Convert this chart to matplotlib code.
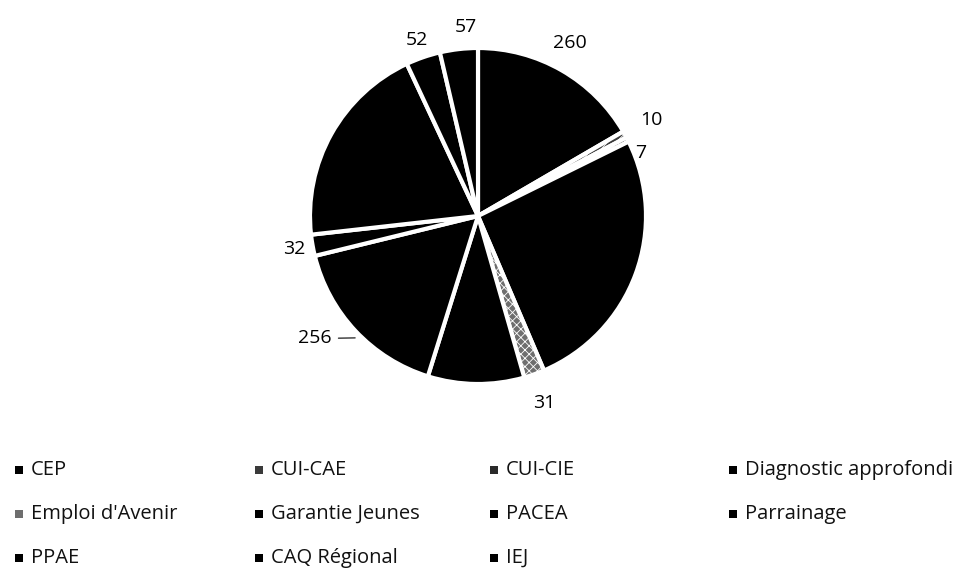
import matplotlib
matplotlib.use('Agg')
import matplotlib.pyplot as plt
import numpy as np
from matplotlib.patches import Rectangle

# Data (unlabeled black slices are estimated)
CATEGORIES = ['CEP', 'CUI-CAE', 'CUI-CIE', 'Diagnostic approfondi',
              "Emploi d'Avenir", 'Garantie Jeunes', 'PACEA', 'Parrainage',
              'PPAE', 'CAQ Régional', 'IEJ']
VALUES = [260, 10, 7, 405, 31, 145, 256, 32, 310, 52, 57]
SHOW_LABEL = [True, True, True, False, True, False, True, True, False, True, True]

FACE = ['#000000', '#3a3a3a', '#2a2a2a', '#000000', '#6e6e6e', '#000000',
        '#000000', '#000000', '#000000', '#000000', '#000000']
HATCH = [None, '////', 'xxxx', None, 'xxxx', None, None, None, None, None, None]

W, H = 960, 572
CX, CY, R = 478, 216, 168

plt.rcParams['font.family'] = ['Open Sans', 'DejaVu Sans']
plt.rcParams['hatch.color'] = 'white'
plt.rcParams['hatch.linewidth'] = 0.6

fig = plt.figure(figsize=(W / 100, H / 100), dpi=100)
ax = fig.add_axes([(CX - R) / W, (H - CY - R) / H, 2 * R / W, 2 * R / H])

wedges, _ = ax.pie(VALUES, startangle=90, counterclock=False, colors=FACE,
                   wedgeprops=dict(edgecolor='white', linewidth=3))
for w, h in zip(wedges, HATCH):
    if h:
        w.set_hatch(h)
ax.set_xlim(-1, 1)
ax.set_ylim(-1, 1)
ax.set_aspect('equal')


def polar(ang, dist):
    a = np.deg2rad(ang)
    return dist * np.cos(a), dist * np.sin(a)


# outside-end data labels: (distance, clockwise shift in degrees)
LABEL_POS = {0: (1.166, -2), 1: (1.178, 0), 2: (1.035, 6), 4: (1.18, 0),
             6: (1.137, 3.3), 7: (1.11, 0), 9: (1.108, 0), 10: (1.127, 3)}
for i, (w, v) in enumerate(zip(wedges, VALUES)):
    if not SHOW_LABEL[i]:
        continue
    mid = (w.theta1 + w.theta2) / 2
    dist, shift = LABEL_POS[i]
    x, y = polar(mid - shift, dist)
    if i == 6:
        ax.annotate(str(v), xy=polar(mid + 1.6, 1.03), xytext=(x, y),
                    ha='right', va='center', fontsize=14,
                    arrowprops=dict(arrowstyle='-', color='black', lw=0.8,
                                    shrinkA=3, shrinkB=0))
    else:
        ax.text(x, y, str(v), ha='center', va='center', fontsize=14, color='black')

# legend (row-major, 4 columns)
COL_X = [15, 255, 490, 729]
ROW_Y = [470, 514, 558]
for i, (name, fc, h) in enumerate(zip(CATEGORIES, FACE, HATCH)):
    r, c = divmod(i, 4)
    mx, my = COL_X[c], ROW_Y[r]
    sq = Rectangle((mx / W, (H - my - 4) / H), 8 / W, 8 / H,
                   transform=fig.transFigure, facecolor=fc, edgecolor='none',
                   hatch=h)
    fig.add_artist(sq)
    fig.text((mx + 16) / W, (H - my) / H, name, ha='left', va='center',
             fontsize=14.5, color='#111111')

fig.savefig('out.png', dpi=100, facecolor='white')
